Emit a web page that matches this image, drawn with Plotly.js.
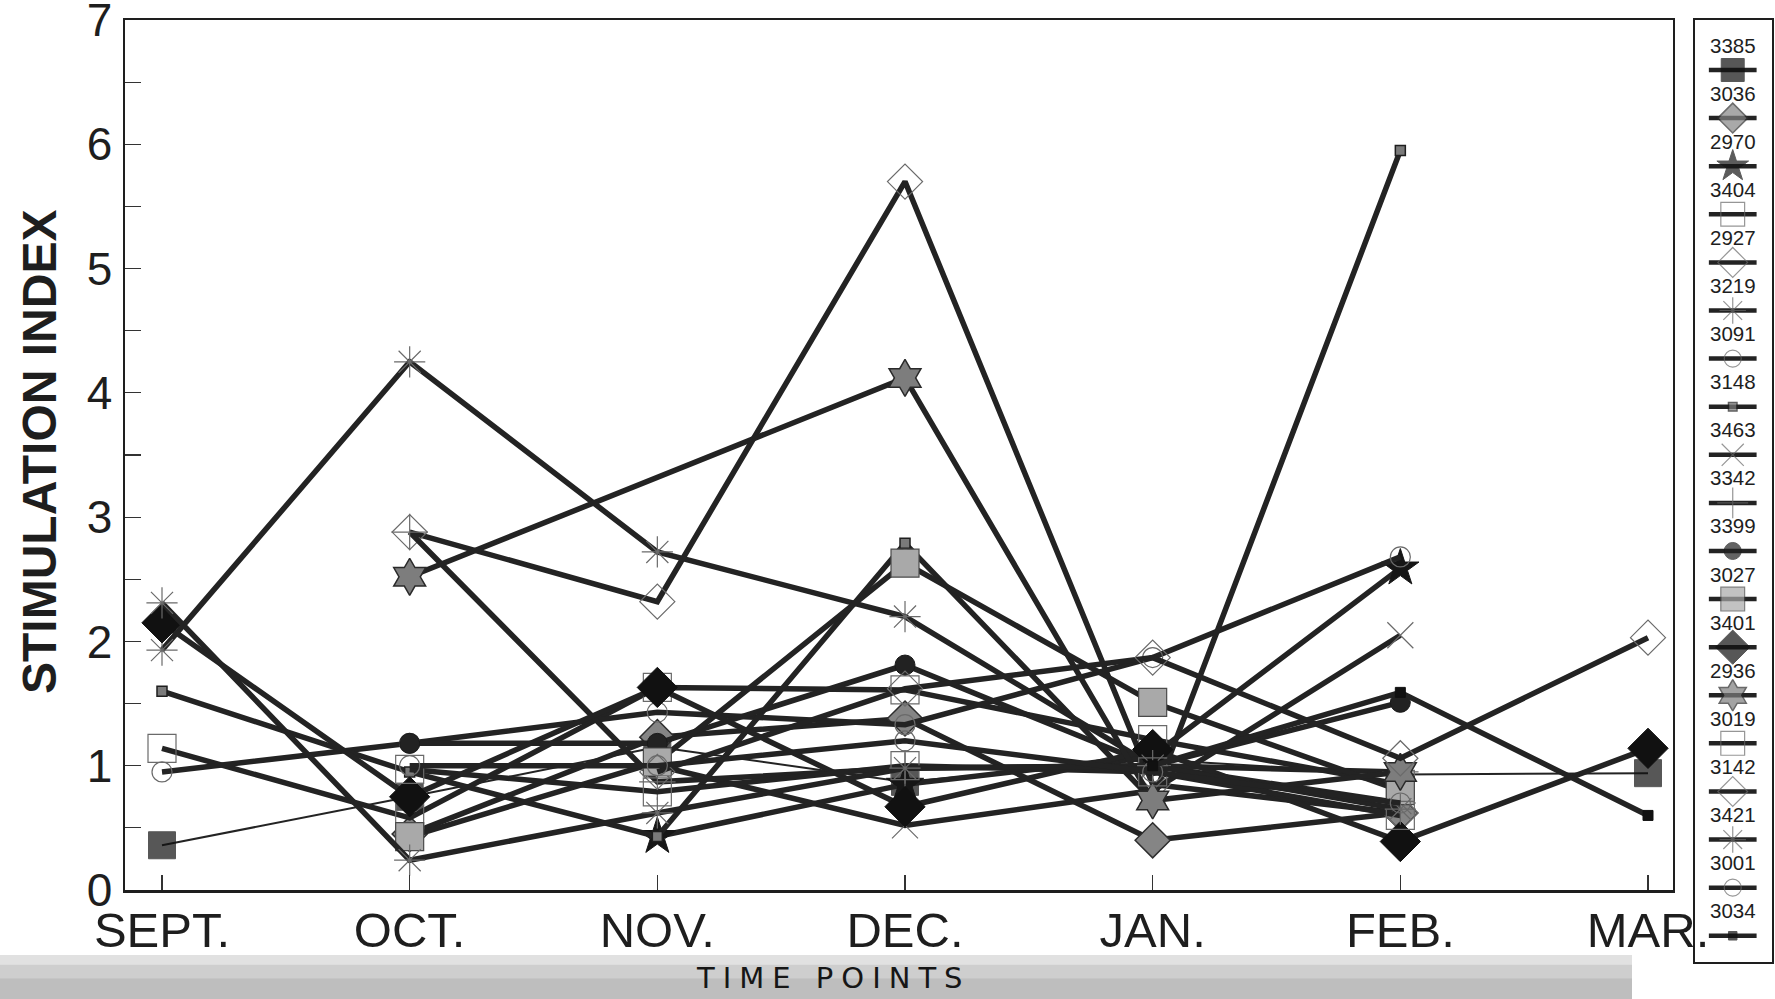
<!DOCTYPE html>
<html>
<head>
<meta charset="utf-8">
<script src="https://cdn.plot.ly/plotly-3.0.1.min.js"></script>
<style>
  html, body { margin: 0; padding: 0; background: #ffffff; }
  #chart { width: 1775px; height: 999px; }
</style>
</head>
<body>
<div id="chart"></div>
<script>
// Time points on the x axis
const months = ['SEPT.', 'OCT.', 'NOV.', 'DEC.', 'JAN.', 'FEB.', 'MAR.'];

// Subject IDs, in legend order
const subjects = ['3385', '3036', '2970', '3404', '2927', '3219', '3091', '3148', '3463',
                  '3342', '3399', '3027', '3401', '2936', '3019', '3142', '3421', '3001', '3034'];

// Stimulation index per subject, one value per time point (null = not measured)
const s3385 = [0.36, 0.75, 1.15, 0.87, 1.05, 0.93, 0.94];
const s3036 = [null, 0.45, 1.23, 1.38, 0.40, 0.62, null];
const s2970 = [null, null, 0.43, 0.85, 1.08, 2.59, null];
const s3404 = [1.14, 0.58, 1.63, 1.61, 1.21, 0.85, null];
const s2927 = [null, 2.88, 2.32, 5.70, 0.85, 0.62, null];
const s3219 = [1.93, 4.25, 2.72, 2.20, 1.00, 0.70, null];
const s3091 = [0.95, 1.18, 1.43, 1.33, 1.87, 2.68, null];
const s3148 = [1.60, 0.95, 0.43, 2.79, 0.72, 5.95, null];
const s3463 = [null, null, 1.00, 0.52, 0.80, 2.05, null];
const s3342 = [null, 2.88, 0.87, 0.98, 1.00, 0.95, null];
const s3399 = [null, 1.18, 1.18, 1.81, 1.00, 1.51, null];
const s3027 = [null, 0.43, 1.03, 2.63, 1.51, 0.80, null];
const s3401 = [2.15, 0.75, 1.63, 0.67, 1.13, 0.39, 1.14];
const s2936 = [null, 2.52, null, 4.12, 0.72, 0.95, null];
const s3019 = [null, 0.97, 0.79, 1.00, 0.95, 0.60, null];
const s3142 = [null, null, 0.95, 1.62, 1.87, 1.06, 2.03];
const s3421 = [2.31, 0.24, 0.62, 0.98, 1.00, 0.65, null];
const s3001 = [null, 1.00, 1.00, 1.20, 0.95, 0.70, null];
const s3034 = [null, null, null, null, 1.00, 1.59, 0.60];

const seriesValues = [s3385, s3036, s2970, s3404, s2927, s3219, s3091, s3148, s3463,
                      s3342, s3399, s3027, s3401, s2936, s3019, s3142, s3421, s3001, s3034];

// Marker / line look of each subject
const INK = '#232323';
const THIN = '#6a6a6a';
const LW = 5.5;
const looks = [
  { sym: 'square',           size: 27, color: '#111111', edge: '#111111', ew: 1,   lw: 2 },
  { sym: 'diamond',          size: 27, color: '#858585', edge: '#2e2e2e', ew: 1.5, lw: LW },
  { sym: 'star',             size: 28, color: '#161616', edge: '#161616', ew: 1,   lw: LW },
  { sym: 'square-open',      size: 28, color: THIN,      edge: THIN,      ew: 1.2, lw: LW },
  { sym: 'diamond-open',     size: 27, color: THIN,      edge: THIN,      ew: 1.2, lw: LW },
  { sym: 'asterisk-open',    size: 26, color: THIN,      edge: THIN,      ew: 1.2, lw: LW },
  { sym: 'circle-open',      size: 20, color: THIN,      edge: THIN,      ew: 1.2, lw: LW },
  { sym: 'square',           size: 10, color: '#7a7a7a', edge: '#1e1e1e', ew: 1.5, lw: LW },
  { sym: 'x-thin-open',      size: 26, color: THIN,      edge: THIN,      ew: 1.2, lw: LW },
  { sym: 'cross-thin-open',  size: 26, color: THIN,      edge: THIN,      ew: 1.2, lw: LW },
  { sym: 'circle',           size: 20, color: '#222222', edge: '#1a1a1a', ew: 1,   lw: LW },
  { sym: 'square',           size: 28, color: '#a9a9a9', edge: '#4a4a4a', ew: 1.2, lw: LW },
  { sym: 'diamond',          size: 31, color: '#111111', edge: '#111111', ew: 1,   lw: LW },
  { sym: 'hexagram',         size: 28, color: '#7d7d7d', edge: '#2a2a2a', ew: 1.5, lw: LW },
  { sym: 'square-open',      size: 28, color: THIN,      edge: THIN,      ew: 1.2, lw: LW },
  { sym: 'diamond-open',     size: 27, color: THIN,      edge: THIN,      ew: 1.2, lw: LW },
  { sym: 'asterisk-open',    size: 26, color: THIN,      edge: THIN,      ew: 1.2, lw: LW },
  { sym: 'circle-open',      size: 20, color: THIN,      edge: THIN,      ew: 1.2, lw: LW },
  { sym: 'square',           size: 10, color: '#111111', edge: '#111111', ew: 1,   lw: LW }
];

// Point drawn without a marker symbol (line passes through only)
const bareFeb3385 = 5;

const FONT = 'Liberation Sans, Arial, sans-serif';

const traces = [];
subjects.forEach((id, i) => {
  const lk = looks[i];
  let sizes = lk.size;
  if (id === '3385') {
    sizes = months.map((m, k) => (k === bareFeb3385 ? 0 : lk.size));
  }
  traces.push({
    type: 'scatter',
    mode: 'lines+markers',
    name: id,
    x: months,
    y: seriesValues[i],
    xaxis: 'x', yaxis: 'y',
    connectgaps: id === '2936',
    line: { color: INK, width: lk.lw },
    marker: { symbol: lk.sym, size: sizes, color: lk.color,
              line: { color: lk.edge, width: lk.ew } },
    showlegend: false,
    hoverinfo: 'name+y'
  });
});

// Hand-built legend: one short line sample with the symbol, label above it
const legendTop = 45, legendStep = 48.1, sampleDrop = 25;
const annotations = [];
subjects.forEach((id, i) => {
  const lk = looks[i];
  const yy = legendTop + sampleDrop + legendStep * i;
  traces.push({
    type: 'scatter',
    mode: 'lines+markers',
    x: [0.18, 0.49, 0.80],
    y: [yy, yy, yy],
    xaxis: 'x2', yaxis: 'y2',
    line: { color: INK, width: 4.5 },
    marker: { symbol: lk.sym, size: [0, lk.size * 0.85, 0], color: lk.color,
              line: { color: lk.edge, width: lk.ew } },
    showlegend: false,
    hoverinfo: 'skip'
  });
  annotations.push({
    xref: 'x2', yref: 'y2', x: 0.49, y: legendTop + legendStep * i,
    text: id, showarrow: false,
    font: { family: FONT, size: 20.5, color: '#1e1e1e' }
  });
});

// Axis titles
annotations.push({
  xref: 'paper', yref: 'paper', x: -0.052, y: 0.555,
  text: '<b>STIMULATION INDEX</b>', textangle: -90, showarrow: false,
  xanchor: 'center', yanchor: 'middle',
  font: { family: FONT, size: 48, color: '#1e1e1e' }
});
annotations.push({
  xref: 'paper', yref: 'paper', x: 0.43, y: 0.012,
  text: 'TIME POINTS', showarrow: false,
  xanchor: 'center', yanchor: 'middle',
  font: { family: 'DejaVu Sans, sans-serif', size: 29, color: '#161616', weight: 500 }
});

// Scanner shadow along the bottom edge, built up in bands
const shadowBands = [
  { y0: 0.026, y1: 0.036, a: 0.22 },
  { y0: 0.012, y1: 0.026, a: 0.36 },
  { y0: -0.01, y1: 0.012, a: 0.48 }
];
const shapes = shadowBands.map(b => ({
  type: 'rect', xref: 'paper', yref: 'paper', x0: -0.08, x1: 0.915, y0: b.y0, y1: b.y1,
  fillcolor: 'rgba(120,120,120,' + b.a + ')', line: { width: 0 }, layer: 'below'
}));

const layout = {
  width: 1775, height: 999,
  margin: { l: 125, r: 3, t: 20, b: 9 },
  paper_bgcolor: '#ffffff',
  plot_bgcolor: 'rgba(0,0,0,0)',
  showlegend: false,
  xaxis: {
    domain: [0, 0.93989],
    type: 'category',
    range: [-0.1494, 6.1009],
    showgrid: false, zeroline: false,
    showline: true, mirror: true, linecolor: '#1e1e1e', linewidth: 2.5,
    ticks: 'inside', ticklen: 15, tickwidth: 1.2, tickcolor: '#333',
    tickfont: { family: FONT, size: 49, color: '#1e1e1e' },
    ticklabelstandoff: -4,
    ticklabeloverflow: 'allow'
  },
  yaxis: {
    domain: [0.10309, 1],
    range: [0, 7],
    tickvals: [0, 1, 2, 3, 4, 5, 6, 7],
    showgrid: false, zeroline: false,
    showline: true, mirror: true, linecolor: '#1e1e1e', linewidth: 2.5,
    ticks: 'inside', ticklen: 16, tickwidth: 1.2, tickcolor: '#333',
    minor: { dtick: 0.5, ticks: 'inside', ticklen: 16, tickwidth: 1.2, tickcolor: '#333' },
    tickfont: { family: FONT, size: 46, color: '#1e1e1e' },
    ticklabelstandoff: 1,
    ticklabeloverflow: 'allow'
  },
  xaxis2: {
    domain: [0.95325, 1], anchor: 'y2',
    range: [0, 1], showgrid: false, zeroline: false, showticklabels: false, ticks: '',
    showline: true, mirror: true, linecolor: '#1e1e1e', linewidth: 2
  },
  yaxis2: {
    domain: [0.0289, 1], anchor: 'x2',
    range: [962, 20], showgrid: false, zeroline: false, showticklabels: false, ticks: '',
    showline: true, mirror: true, linecolor: '#1e1e1e', linewidth: 2
  },
  annotations: annotations,
  shapes: shapes
};

Plotly.newPlot('chart', traces, layout, { staticPlot: true }).then(() => {
  document.querySelectorAll('.annotation-text').forEach(t => {
    if (t.textContent === 'TIME POINTS') t.style.letterSpacing = '8px';
  });
});
</script>
</body>
</html>
